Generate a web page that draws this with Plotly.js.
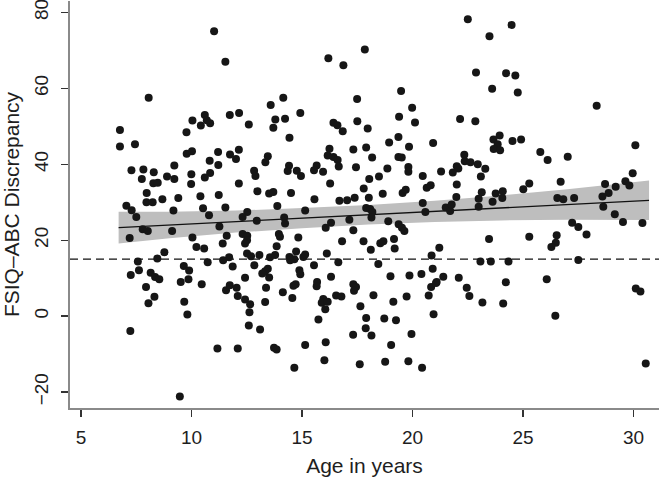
<!DOCTYPE html>
<html>
<head>
<meta charset="utf-8">
<script src="https://cdn.plot.ly/plotly-3.0.1.min.js"></script>
<style>
  html, body { margin: 0; padding: 0; background: #fff; }
  #chart { width: 659px; height: 480px; }
</style>
</head>
<body>
<div id="chart"></div>
<script>
// Age (years) and FSIQ-ABC discrepancy for each participant
const ageYears = [
  11.02, 11.53, 8.06, 10.6, 10.04, 10.42, 10.84, 10.69, 11.73, 12.15, 12.59, 6.76, 9.77, 7.44, 6.76,
  17.84, 16.19, 16.87, 19.48, 14.15, 13.58, 17.49, 19.98, 13.79, 14.23, 14.92, 13.70, 19.39, 20.11, 16.42,
  16.60, 17.50, 17.97, 16.84, 14.43, 19.36, 18.94, 20.93,
  22.50, 24.48, 23.48, 22.87, 24.23, 24.65, 23.60, 24.76, 28.33, 22.15, 22.84, 23.94, 23.66, 24.52, 24.91,
  23.85, 30.08,
  7.28, 7.82, 8.29, 7.75, 8.27, 8.47, 8.89, 9.22, 9.22, 9.78, 10.02, 9.99, 9.98, 10.82, 11.20, 11.21, 10.84,
  10.60, 11.74, 12.01, 12.14, 12.14, 12.83, 12.89, 12.98, 7.97, 7.96, 8.24, 8.68, 9.40, 10.40, 11.23, 7.05,
  7.29, 7.50, 9.18, 10.52, 10.79, 11.53, 12.52, 12.31, 12.95, 7.79, 8.02, 9.12, 11.26, 7.20, 10.04, 11.59,
  12.31, 12.52, 12.51, 12.42, 10.22, 10.57, 11.41, 8.77, 12.51, 12.69, 13.07, 8.45, 11.70, 7.57, 10.73,
  11.43, 11.86, 9.65, 12.84, 7.62, 9.89, 7.25, 8.15, 8.35, 8.54, 9.86, 12.42,
  7.94, 9.51, 10.46, 8.32, 8.05, 9.67, 9.81, 7.23, 11.17, 12.09, 9.47, 11.56, 11.73, 12.04, 12.09, 12.42,
  12.65, 12.62, 12.59, 13.10,
  16.24, 17.32, 17.90, 19.84, 13.45, 13.34, 16.16, 16.42, 16.61, 16.66, 18.17, 19.36, 19.51, 14.41, 14.35,
  14.76, 14.95, 15.66, 15.54, 15.95, 17.44, 18.86, 19.81, 19.81, 18.48, 18.04, 20.46, 21.29, 16.27, 13.51,
  13.70, 14.50, 17.79, 19.55, 19.69, 20.64, 20.82, 18.65, 15.56, 16.69, 17.04, 17.38, 18.02, 13.88, 15.14,
  17.90, 18.08, 18.18, 18.14, 20.46, 20.58, 21.5, 21.7, 14.19, 14.23, 16.31, 17.14, 18.90, 16.07, 19.37,
  19.52, 19.63, 17.32, 13.95, 14.00, 14.83, 16.81, 17.78, 18.54, 18.68, 19.16, 21.21, 13.85, 18.11, 19.19,
  14.73, 13.55, 13.78, 14.43, 14.65, 14.46, 15.06, 15.14, 16.12, 16.64, 20.86, 13.45, 13.33, 13.20, 13.51,
  14.88, 14.92, 15.54, 18.45, 20.91, 16.31, 15.68, 19.0, 19.86, 20.40, 21.39, 21.09,
  13.37, 14.13, 14.61, 14.71, 14.56, 13.33, 15.66, 15.96, 15.89, 16.16, 16.05, 15.74, 16.54, 16.78, 17.32,
  17.44, 17.35, 18.23, 17.64, 17.90, 17.88, 18.72, 19.25, 19.13, 19.73, 18.14, 17.31, 13.73, 13.85, 15.14,
  16.07, 16.01, 14.65, 17.61, 18.76, 19.03, 19.95, 19.81, 20.43, 20.95, 20.73, 20.84, 21.06,
  23.67, 23.96, 22.34, 22.36, 22.62, 22.95, 22.0, 22.07, 21.82, 23.29, 23.09, 22.0, 21.98, 21.77, 23.13,
  22.99, 22.99, 23.62, 23.76, 24.08, 24.06, 25.01, 25.28, 25.78, 26.11, 27.02, 26.70, 26.55, 26.82, 27.31,
  29.96, 29.63, 29.81, 28.71, 29.19, 28.87, 28.59, 28.63, 29.15, 29.52, 30.40, 27.22, 27.50, 27.87, 25.28,
  26.52, 26.48, 26.28, 23.46, 23.07, 23.54, 24.34, 27.50, 22.09, 24.22, 26.07,
  22.45, 22.57, 23.16, 24.10, 26.46, 30.1, 30.31, 30.55
];
const discrepancy = [
  75.0, 67.0, 57.5, 53.0, 51.5, 50.2, 50.8, 51.6, 53.0, 53.5, 50.5, 49.0, 48.4, 45.3, 44.7,
  70.2, 67.9, 66.1, 59.3, 57.5, 55.6, 57.2, 54.9, 51.8, 52.0, 53.5, 49.6, 52.5, 51.0, 50.9,
  50.3, 51.3, 49.4, 48.7, 47.0, 47.2, 45.7, 45.6,
  78.2, 76.7, 73.7, 64.2, 64.0, 63.4, 59.9, 58.9, 55.4, 51.9, 51.3, 47.6, 46.5, 46.1, 46.5,
  45.3, 45.0,
  38.4, 38.6, 37.9, 36.1, 35.0, 35.1, 36.8, 39.7, 36.1, 42.8, 43.4, 37.4, 34.8, 40.9, 43.2, 39.8, 37.7,
  36.5, 42.6, 41.4, 43.8, 34.9, 38.3, 36.9, 32.9, 32.4, 30.0, 30.0, 30.8, 31.1, 31.6, 31.9, 29.1,
  27.9, 26.1, 27.8, 28.4, 26.6, 28.6, 27.4, 26.1, 25.1, 22.9, 22.4, 22.4, 23.6, 20.6, 20.7, 21.2,
  21.6, 21.2, 20.0, 19.1, 18.2, 17.8, 19.1, 16.8, 16.5, 15.8, 16.1, 15.2, 15.5, 14.4, 14.2,
  14.7, 13.1, 13.2, 13.4, 12.1, 12.0, 10.8, 11.4, 10.3, 9.7, 9.7, 10.1,
  7.7, 9.0, 8.4, 5.1, 3.4, 3.8, 0.4, -3.9, -8.5, -8.5, -21.2, 6.8, 8.1, 7.5, 5.3, 4.4,
  3.1, 1.0, -2.5, -3.5,
  44.1, 43.9, 44.4, 44.6, 42.1, 40.5, 42.3, 41.9, 41.1, 39.4, 41.8, 41.9, 41.8, 39.6, 38.2,
  38.3, 36.9, 39.7, 38.4, 38.0, 39.2, 38.9, 39.3, 38.0, 36.8, 36.1, 36.9, 38.1, 34.9, 32.3,
  32.7, 32.4, 33.6, 32.4, 33.3, 33.8, 34.5, 32.2, 30.8, 30.4, 30.5, 31.2, 31.2, 29.0, 27.8,
  28.5, 28.2, 27.4, 26.0, 29.8, 27.4, 28.6, 27.7, 26.0, 24.4, 24.6, 25.4, 25.0, 23.3, 24.2,
  23.3, 22.4, 22.6, 21.6, 20.9, 20.7, 19.7, 19.7, 19.2, 19.7, 20.3, 18.0, 18.4, 17.5, 17.8,
  17.0, 15.5, 16.1, 15.6, 15.0, 14.7, 15.6, 16.2, 16.5, 14.2, 16.0, 12.5, 11.8, 11.2, 10.2,
  12.1, 11.0, 13.4, 13.7, 12.5, 10.4, 9.0, 10.5, 10.7, 11.1, 10.4, 9.0,
  7.5, 6.3, 8.0, 8.4, 4.8, 3.7, 7.9, 4.5, 3.5, 3.8, 1.8, -0.9, 5.4, 5.2, 8.4,
  7.7, 6.7, 5.5, 2.6, -0.5, -3.2, -0.6, -1.1, 3.8, 5.2, -5.1, -4.9, -8.3, -8.8, -7.6,
  -6.9, -11.6, -13.6, -12.7, -12.0, -7.6, -4.7, -11.9, -13.6, 0.5, 5.4, 7.7, 8.7,
  44.0, 43.7, 42.5, 40.8, 40.5, 40.0, 39.5, 38.9, 37.8, 38.8, 36.8, 34.7, 31.4, 29.4, 32.6,
  30.9, 28.8, 30.1, 32.3, 32.9, 31.1, 33.4, 34.9, 43.2, 41.1, 42.0, 35.4, 31.1, 30.8, 31.1,
  37.6, 35.5, 34.4, 34.8, 34.1, 32.4, 31.5, 28.8, 26.8, 24.8, 24.5, 24.6, 23.5, 21.5, 20.9,
  21.3, 19.3, 18.2, 20.3, 14.4, 14.4, 14.4, 14.8, 10.1, 8.9, 9.7,
  7.5, 5.3, 3.6, 3.3, 0.1, 7.3, 6.5, -12.5
];

// Fitted line and its confidence band, read at a few ages
const fitAge = [6.7, 9, 12, 15, 18, 21, 24, 27, 30.7];
const fitValue = [23.3, 24.0, 24.9, 25.8, 26.7, 27.6, 28.5, 29.4, 30.5];
const ciUpper = [27.5, 27.5, 27.8, 28.45, 29.3, 30.4, 31.8, 33.4, 35.7];
const ciLower = [19.1, 20.5, 22.0, 23.15, 24.1, 24.8, 25.2, 25.4, 25.3];

// Reference cut-off
const cutoff = 15;

const xTicks = [5, 10, 15, 20, 25, 30];
const yTicks = [-20, 0, 20, 40, 60, 80];

const traces = [
    {
        x: fitAge, y: ciUpper, type: 'scatter', mode: 'lines',
        line: {width: 0, color: '#bdbdbd'}, hoverinfo: 'skip', showlegend: false
    },
    {
        x: fitAge, y: ciLower, type: 'scatter', mode: 'lines',
        line: {width: 0, color: '#bdbdbd'}, fill: 'tonexty', fillcolor: '#bebebe',
        hoverinfo: 'skip', showlegend: false
    },
    {
        x: [4.5, 31.2], y: [cutoff, cutoff], type: 'scatter', mode: 'lines',
        line: {color: '#111', width: 1.3, dash: '8px,5px'}, showlegend: false
    },
    {
        x: fitAge, y: fitValue, type: 'scatter', mode: 'lines',
        line: {color: '#111', width: 1.3}, showlegend: false
    },
    {
        x: ageYears, y: discrepancy, type: 'scatter', mode: 'markers',
        marker: {color: '#161616', size: 8, line: {width: 0}}, showlegend: false
    }
];

const tickFont = {family: 'Liberation Sans, Arial, sans-serif', size: 19, color: '#1e1e1e'};
const titleFont = {family: 'Liberation Sans, Arial, sans-serif', size: 21, color: '#1e1e1e'};

const layout = {
    width: 659,
    height: 480,
    margin: {l: 70, r: 0, t: 1, b: 72},
    paper_bgcolor: '#fff',
    plot_bgcolor: '#fff',
    showlegend: false,
    xaxis: {
        range: [4.5, 31.15],
        tickvals: xTicks,
        ticks: 'outside', ticklen: 7, tickwidth: 1.3, tickcolor: '#333',
        ticklabelstandoff: 4,
        ticklabeloverflow: 'allow',
        showline: true, linecolor: '#8a8a8a', linewidth: 2,
        showgrid: false, zeroline: false,
        tickfont: tickFont,
        title: {text: 'Age in years', font: titleFont, standoff: 12}
    },
    yaxis: {
        range: [-24.2, 83.0],
        tickvals: yTicks,
        tickangle: -90,
        ticks: 'outside', ticklen: 7, tickwidth: 1.3, tickcolor: '#333',
        ticklabelstandoff: 5,
        ticklabeloverflow: 'allow',
        showline: true, linecolor: '#8a8a8a', linewidth: 2,
        showgrid: false, zeroline: false,
        tickfont: tickFont,
        title: {text: 'FSIQ–ABC Discrepancy', font: titleFont, standoff: 14}
    }
};

Plotly.newPlot('chart', traces, layout, {staticPlot: true, displayModeBar: false});
</script>
</body>
</html>
